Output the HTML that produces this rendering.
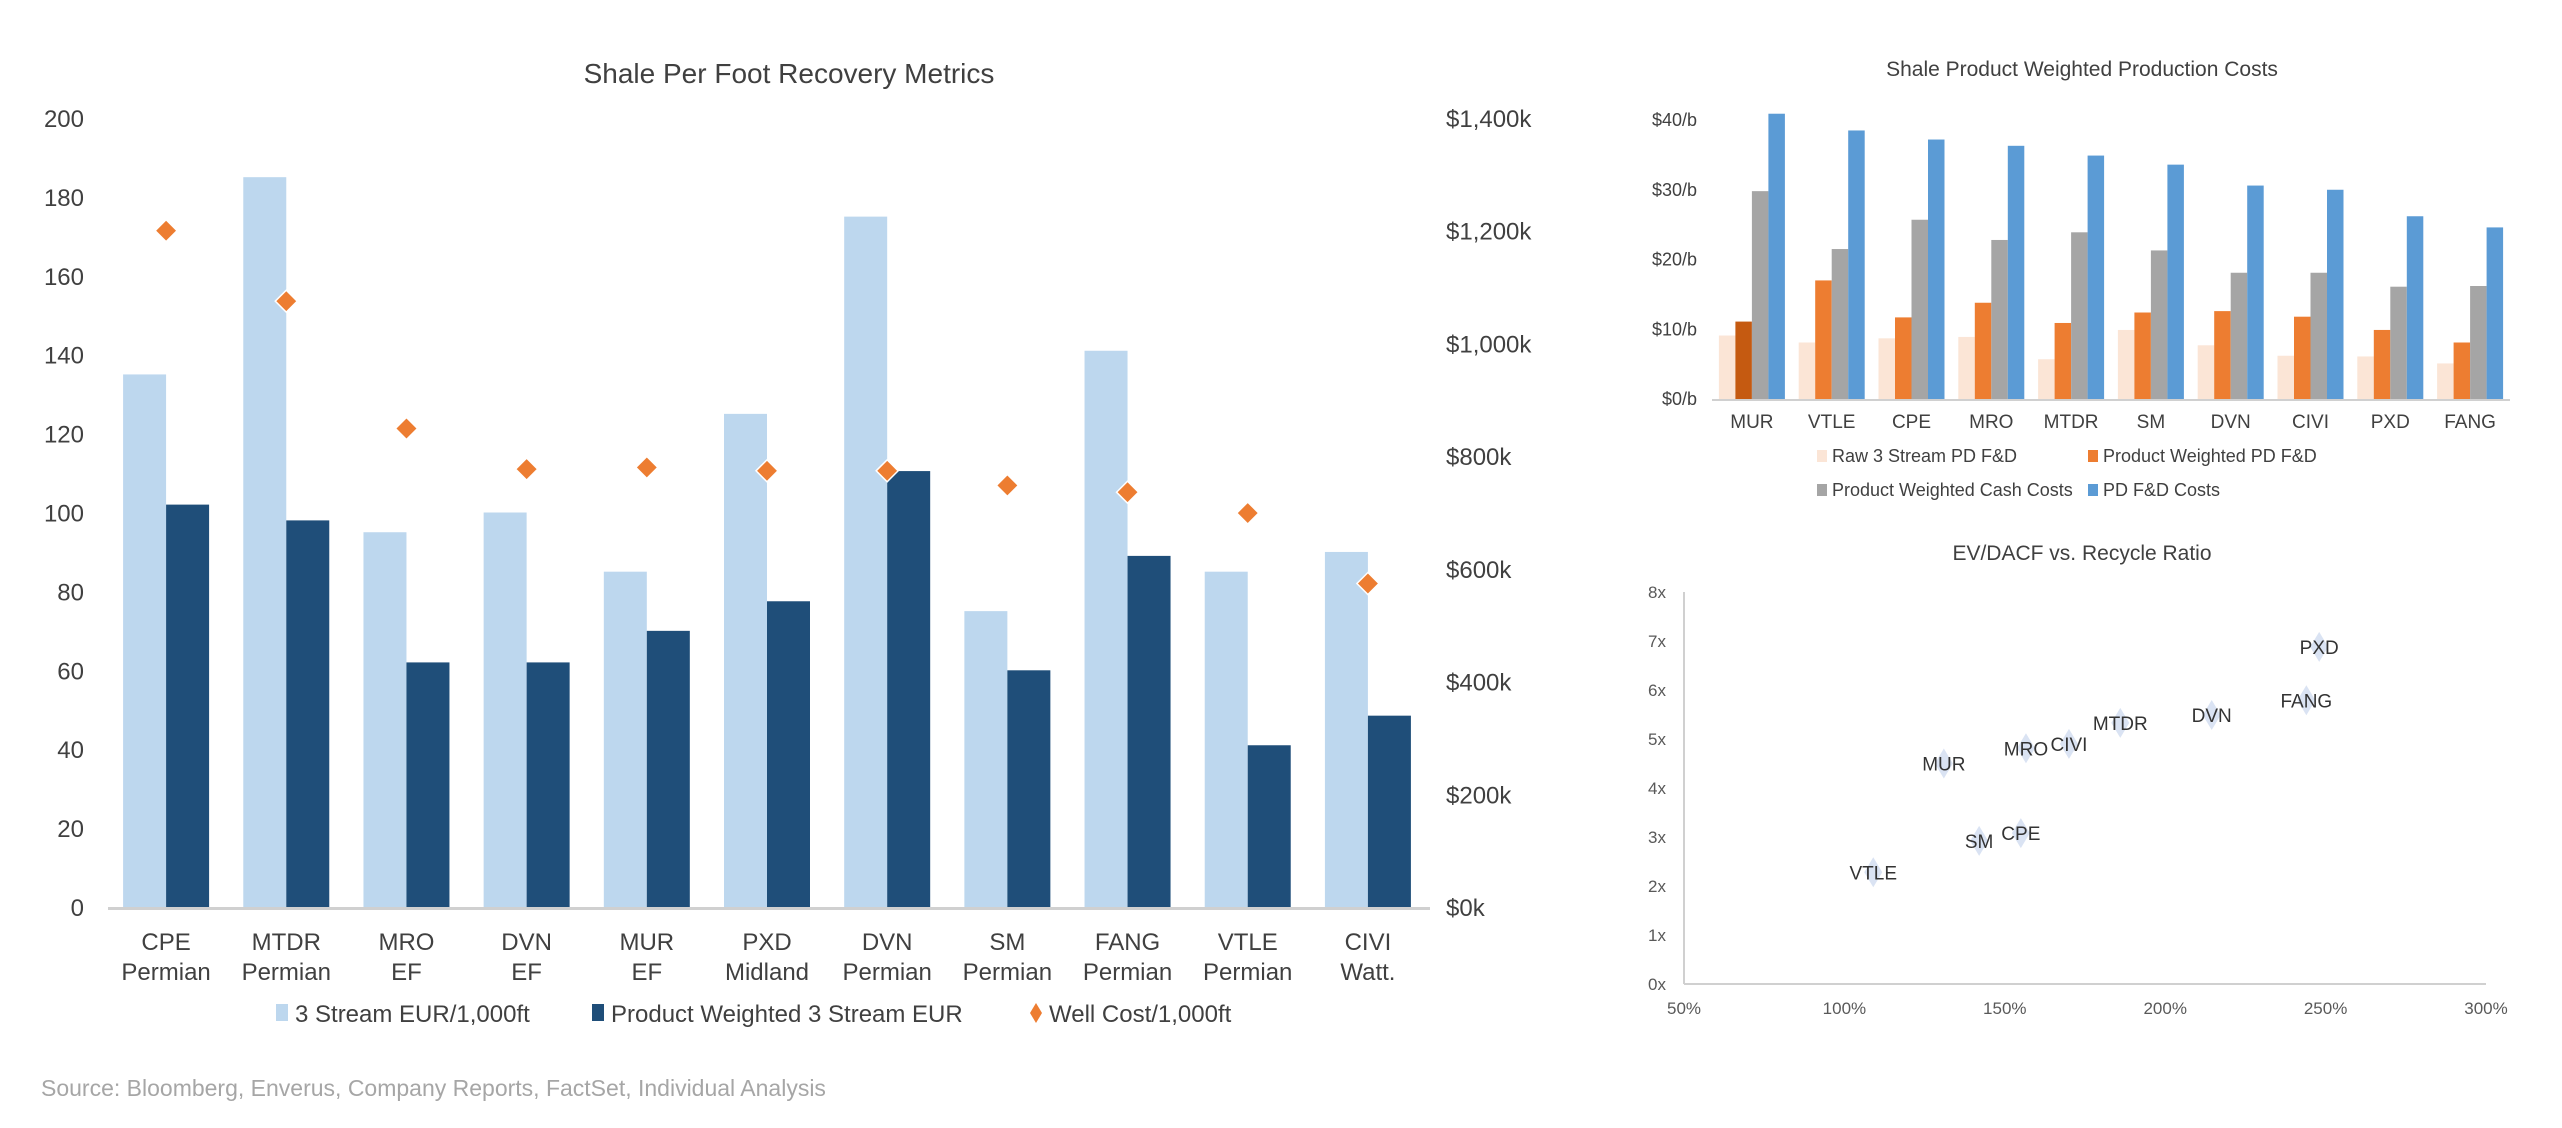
<!DOCTYPE html>
<html><head><meta charset="utf-8"><style>
html,body{margin:0;padding:0;background:#fff;}
svg{display:block;font-family:"Liberation Sans",Arial,sans-serif;}
</style></head><body>
<svg id="root" width="2562" height="1128" viewBox="0 0 2562 1128">
<text x="41" y="1096" font-size="23" fill="#a6a6a6">Source: Bloomberg, Enverus, Company Reports, FactSet, Individual Analysis</text>
</svg>
<script>
// ---------- Main chart data ----------
const mainCats1 = ["CPE","MTDR","MRO","DVN","MUR","PXD","DVN","SM","FANG","VTLE","CIVI"];
const mainCats2 = ["Permian","Permian","EF","EF","EF","Midland","Permian","Permian","Permian","Permian","Watt."];
const eurRaw = [135,185,95,100,85,125,175,75,141,85,90];
const eurPW = [102,98,62,62,70,77.5,110.5,60,89,41,48.5];
const wellCost = [1200,1075,849,777,780,774,774,748,736,699,574];
const leftTicks = [0,20,40,60,80,100,120,140,160,180,200];
const rightTicks = [0,200,400,600,800,1000,1200,1400];
// ---------- Cost chart data ----------
const costCats = ["MUR","VTLE","CPE","MRO","MTDR","SM","DVN","CIVI","PXD","FANG"];
const rawPD = [9.1,8.1,8.7,8.9,5.7,9.9,7.7,6.2,6.1,5.1];
const pwPD = [11.1,17,11.7,13.8,10.9,12.4,12.6,11.8,9.9,8.1];
const pwCash = [29.8,21.5,25.7,22.8,23.9,21.3,18.1,18.1,16.1,16.2];
const pdCosts = [40.9,38.5,37.2,36.3,34.9,33.6,30.6,30.0,26.2,24.6];
const costTicks = [0,10,20,30,40];
// ---------- Scatter data ----------
const scNames = ["PXD","FANG","DVN","MTDR","CIVI","MRO","MUR","CPE","SM","VTLE"];
const scRecycle = [248,244,214.5,186,170,156.6,131,155,142,109];
const scEV = [6.88,5.79,5.49,5.33,4.90,4.81,4.5,3.08,2.92,2.28];
const scXTicks = [50,100,150,200,250,300];
const scYTicks = [0,1,2,3,4,5,6,7,8];

const NS="http://www.w3.org/2000/svg";
const root=document.getElementById('root');
function mk(tag,attrs,parent,txt){const e=document.createElementNS(NS,tag);for(const k in attrs)e.setAttribute(k,attrs[k]);if(txt!==undefined)e.textContent=txt;(parent||root).appendChild(e);return e;}

// ===== Main chart =====
const M={x0:108,x1:1430,y0:907,y1:118};
const ly=v=>M.y0-(v/200)*(M.y0-M.y1);
const ry=v=>M.y0-(v/1400)*(M.y0-M.y1);
const step=(M.x1-M.x0)/mainCats1.length;
const cx=i=>M.x0+step*(i+0.5)+(-2);
let t=mk('text',{x:789,y:83,'font-size':28,fill:'#404040','text-anchor':'middle'},root,"Shale Per Foot Recovery Metrics");


leftTicks.forEach(v=>{const e=mk('text',{x:84,y:ly(v)+9,'font-size':24,fill:'#404040','text-anchor':'end'},root,String(v));

});
rightTicks.forEach(v=>{const lab=v===0?"$0k":"$"+(v>=1000?Math.floor(v/1000)+","+String(v%1000).padStart(3,"0"):v)+"k";
const e=mk('text',{x:1446,y:ry(v)+9,'font-size':24,fill:'#404040'},root,lab);

});
const bw=43;
mainCats1.forEach((c,i)=>{
 const x=cx(i);
 let b=mk('rect',{x:x-bw,y:ly(eurRaw[i]),width:bw,height:M.y0-ly(eurRaw[i]),fill:'#bdd7ee'});
 
 
 b=mk('rect',{x:x,y:ly(eurPW[i]),width:bw,height:M.y0-ly(eurPW[i]),fill:'#1f4e79'});
 
 
 let l=mk('text',{x:x,y:950,'font-size':24,fill:'#404040','text-anchor':'middle'},root,c);
 
 
 l=mk('text',{x:x,y:980,'font-size':24,fill:'#404040','text-anchor':'middle'},root,mainCats2[i]);
 
 
});
let ax=mk('line',{x1:M.x0,y1:M.y0+1.5,x2:M.x1,y2:M.y0+1.5,stroke:'#d0d0d0','stroke-width':3});


wellCost.forEach((v,i)=>{const x=cx(i),y=ry(v);
 const d=mk('polygon',{points:`${x},${y-11} ${x+11},${y} ${x},${y+11} ${x-11},${y}`,fill:'#ed7d31',stroke:'#fff','stroke-width':1.5});
 
 });
// legend
[[276,'#bdd7ee','3 Stream EUR/1,000ft','rect'],[592,'#1f4e79','Product Weighted 3 Stream EUR','rect'],[1030,'#ed7d31','Well Cost/1,000ft','dia']].forEach(([lx,col,txt,s])=>{
 const g=mk('g',{});
 
 
 if(s==='rect')mk('rect',{x:lx,y:1004,width:12,height:17,fill:col},g);
 else mk('polygon',{points:`${lx+6},1003 ${lx+12},1013 ${lx+6},1023 ${lx},1013`,fill:col},g);
 mk('text',{x:lx+19,y:1022,'font-size':24,fill:'#404040'},g,txt);
});

// ===== Cost chart =====
const C={x0:1712,x1:2510,y0:399,y1:120};
const cy=v=>C.y0-(v/40)*(C.y0-C.y1);
const cstep=(C.x1-C.x0)/costCats.length;
t=mk('text',{x:2082,y:76,'font-size':21,fill:'#404040','text-anchor':'middle'},root,"Shale Product Weighted Production Costs");


costTicks.forEach(v=>{const e=mk('text',{x:1697,y:cy(v)+6,'font-size':18,fill:'#404040','text-anchor':'end'},root,"$"+v+"/b");

});
const series=[[rawPD,'#fbe5d6','bar-raw-pd-fd'],[pwPD,'#ed7d31','bar-pw-pd-fd'],[pwCash,'#a5a5a5','bar-pw-cash-costs'],[pdCosts,'#5b9bd5','bar-pd-fd-costs']];
const cbw=16.5;
costCats.forEach((c,i)=>{
 const gx=C.x0+cstep*(i+0.5);
 series.forEach(([arr,col,nm],k)=>{
  let fill=col; if(k===1&&i===0)fill='#c55a11';
  const b=mk('rect',{x:gx-2*cbw+k*cbw,y:cy(arr[i]),width:cbw,height:C.y0-cy(arr[i]),fill:fill});
  
  
 });
 const l=mk('text',{x:gx,y:428,'font-size':19,fill:'#404040','text-anchor':'middle'},root,c);
 
 
});
ax=mk('line',{x1:C.x0,y1:C.y0+1,x2:C.x1,y2:C.y0+1,stroke:'#d0d0d0','stroke-width':2});


[[1817,456,'#fbe5d6','Raw 3 Stream PD F&D'],[2088,456,'#ed7d31','Product Weighted PD F&D'],[1817,490,'#a5a5a5','Product Weighted Cash Costs'],[2088,490,'#5b9bd5','PD F&D Costs']].forEach(([lx,ly2,col,txt])=>{
 const g=mk('g',{});
 
 
 mk('rect',{x:lx,y:ly2-6,width:10,height:12,fill:col},g);
 mk('text',{x:lx+15,y:ly2+6,'font-size':18,fill:'#404040'},g,txt);
});

// ===== Scatter =====
const S={x0:1684,x1:2486,y0:984,y1:592};
const sx=v=>S.x0+(v-50)/250*(S.x1-S.x0);
const sy=v=>S.y0-v/8*(S.y0-S.y1);
t=mk('text',{x:2082,y:560,'font-size':21,fill:'#404040','text-anchor':'middle'},root,"EV/DACF vs. Recycle Ratio");


ax=mk('line',{x1:S.x0,y1:S.y1,x2:S.x0,y2:S.y0,stroke:'#d0d0d0','stroke-width':2});


ax=mk('line',{x1:S.x0,y1:S.y0,x2:S.x1,y2:S.y0,stroke:'#d0d0d0','stroke-width':2});


scYTicks.forEach(v=>{const e=mk('text',{x:1666,y:sy(v)+6,'font-size':17,fill:'#595959','text-anchor':'end'},root,v+"x");

});
scXTicks.forEach(v=>{const e=mk('text',{x:sx(v),y:1014,'font-size':17,fill:'#595959','text-anchor':'middle'},root,v+"%");

});
scNames.forEach((n,i)=>{const x=sx(scRecycle[i]),y=sy(scEV[i]);
 const d=mk('polygon',{points:`${x},${y-15} ${x+9},${y} ${x},${y+15} ${x-9},${y}`,fill:'#dae3f3'});
 
 
 const l=mk('text',{x:x,y:y+7,'font-size':19,fill:'#333','text-anchor':'middle'},root,n);
 
 
});
</script>
</body></html>
